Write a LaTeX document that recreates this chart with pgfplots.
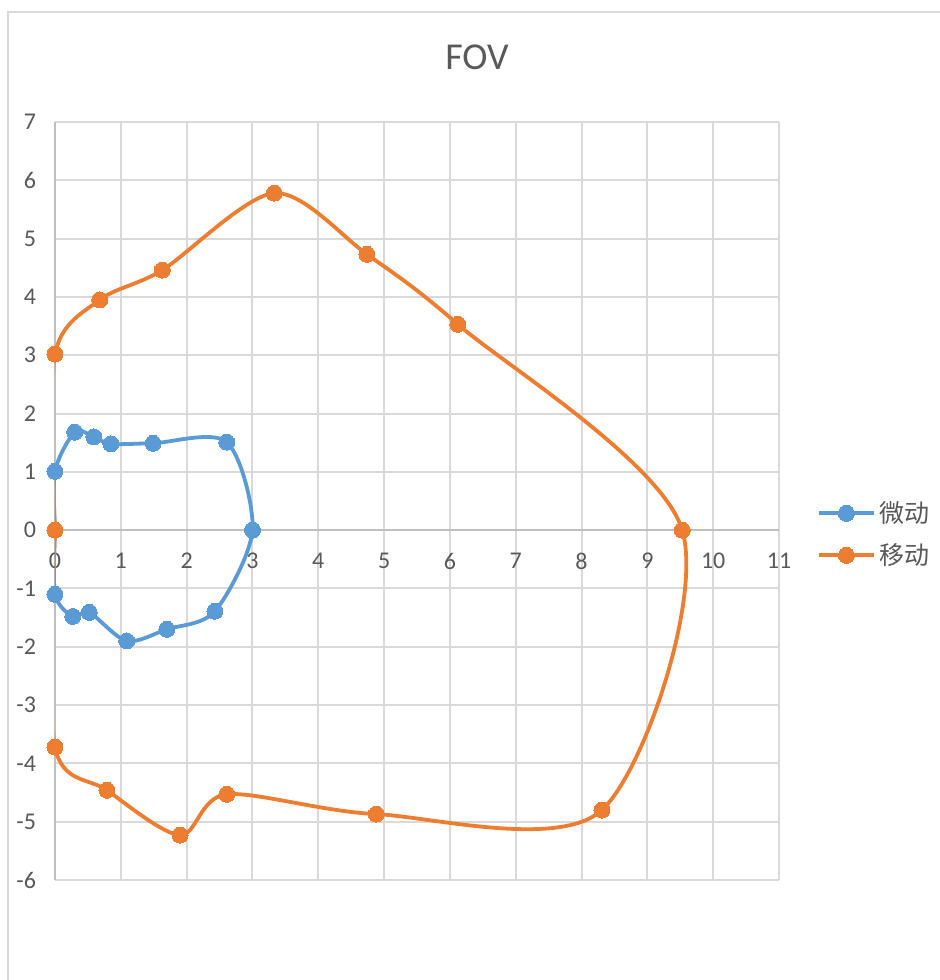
\documentclass[border=0pt]{standalone}
\usepackage{pgfplots}
\pgfplotsset{compat=1.18}
\usepackage{fontspec}
\setmainfont{Carlito}
\newfontfamily\cjk{Noto Sans CJK SC}
\definecolor{cblue}{HTML}{5B9BD5}
\definecolor{corange}{HTML}{ED7D31}
\definecolor{ctext}{HTML}{595959}
\definecolor{cgrid}{HTML}{D9D9D9}
\definecolor{caxis}{HTML}{BFBFBF}
\begin{document}
\begin{tikzpicture}
\useasboundingbox[fill=white] (0,0) rectangle (470pt,490pt);
\draw[cgrid, line width=0.75pt] (4pt,0) -- (4pt,484pt) -- (470pt,484pt);
\node[text=ctext, font=\fontsize{19}{22}\selectfont] at (238.5pt,461.5pt) {FOV};
\begin{axis}[
  at={(27.5pt,50pt)}, anchor=south west,
  scale only axis, width=362pt, height=379pt,
  xmin=0, xmax=11, ymin=-6, ymax=7,
  xtick={0,...,11}, ytick={-6,...,7},
  axis x line=middle, axis y line=left,
  hide obscured x ticks=false, hide obscured y ticks=false,
  axis line style={caxis, line width=1pt, -},
  grid=major, major grid style={cgrid, line width=1pt},
  major tick length=0pt,
  tick label style={font=\fontsize{12}{14}\selectfont, text=ctext},
  /pgf/number format/assume math mode=true,
  yticklabel style={xshift=-6pt},
  xticklabel style={yshift=-8pt},
  legend style={at={(1.052,0.456)}, anchor=west, draw=none, fill=none,
    font=\cjk\fontsize{12.5}{14}\selectfont, text=ctext,
    row sep=5pt, inner sep=0pt},
  legend cell align=left,
  legend image code/.code={
    \draw[mark repeat=2, mark phase=2] plot coordinates {(0pt,0pt) (13.75pt,0pt) (27.5pt,0pt)};
  },
  every axis plot/.append style={line width=1.9pt, smooth, tension=0.5},
]
\addplot[color=cblue, mark=*, mark size=4pt, mark options={fill=cblue, draw=cblue, line width=0pt}] coordinates {
(0,0) (0,1.01) (0.30,1.68) (0.59,1.60) (0.85,1.48) (1.49,1.49) (2.61,1.51) (3.0,0)
(2.43,-1.39) (1.70,-1.70) (1.09,-1.90) (0.52,-1.41) (0.27,-1.48) (0,-1.10) (0,0)
};
\addlegendentry{微动}
\addplot[color=corange, mark=*, mark size=4pt, mark options={fill=corange, draw=corange, line width=0pt}] coordinates {
(0,0) (0,3.02) (0.68,3.95) (1.63,4.46) (3.33,5.78) (4.74,4.73) (6.12,3.53) (9.53,0)
(8.31,-4.80) (4.88,-4.87) (2.61,-4.53) (1.90,-5.23) (0.79,-4.46) (0,-3.72) (0,0)
};
\addlegendentry{移动}
\end{axis}
\end{tikzpicture}
\end{document}
